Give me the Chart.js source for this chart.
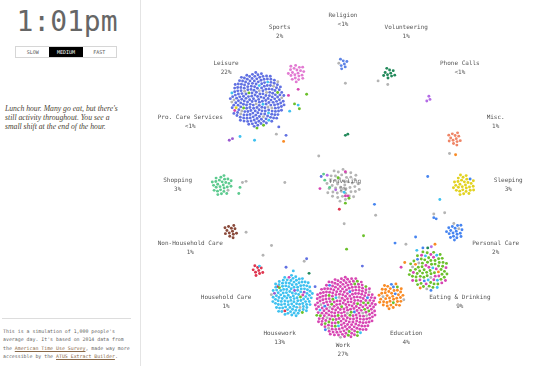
<!DOCTYPE html>
<html>
<head>
<meta charset="utf-8">
<script src="https://cdn.jsdelivr.net/npm/chart.js@4/dist/chart.umd.min.js"></script>
<style>
  body { margin: 0; width: 534px; height: 366px; overflow: hidden; background: #fff; position: relative; }
  #side { position: absolute; left: 0; top: 0; width: 140px; height: 366px; border-right: 1px solid #e4e4e4; }
  .clock { position: absolute; left: 0; top: 5px; width: 134px; text-align: center; font: 28px/34px "DejaVu Sans Mono", monospace; color: #666; }
  .speed { position: absolute; left: 15px; top: 46px; width: 100px; height: 10px; border: 1px solid #d6d6d6; display: flex; }
  .speed span { flex: 1; text-align: center; font: 5px/10px "DejaVu Sans Mono", monospace; color: #555; }
  .speed span.on { background: #000; color: #fff; }
  .note { position: absolute; left: 5px; top: 105px; margin: 0; font: italic 7.7px/8.9px "Liberation Serif", serif; color: #4a3f33; }
  .rule { position: absolute; left: 2px; top: 318px; width: 129px; border-top: 1px solid #ddd; }
  .about { position: absolute; left: 3px; top: 327px; margin: 0; font: 4.9px/8.3px "DejaVu Sans Mono", monospace; color: #666; }
  .about a { color: #8a6a4a; text-decoration: underline; }
  #wrap { position: absolute; left: 141px; top: 0; width: 393px; height: 366px; }
</style>
</head>
<body>
<div id="side">
  <div class="clock">1:01pm</div>
  <div class="speed"><span>SLOW</span><span class="on">MEDIUM</span><span>FAST</span></div>
  <p class="note">Lunch hour. Many go eat, but there's<br>still activity throughout. You see a<br>small shift at the end of the hour.</p>
  <div class="rule"></div>
  <p class="about">This is a simulation of 1,000 people's<br>average day. It's based on 2014 data from<br>the <a>American Time Use Survey</a>, made way more<br>accessible by the <a>ATUS Extract Builder</a>.</p>
</div>
<div id="wrap"><canvas id="dayChart" width="393" height="366"></canvas></div>

<script>
// activities around the ring, clockwise from the top
const activities = ['Religion', 'Volunteering', 'Phone Calls', 'Misc.', 'Sleeping', 'Personal Care',
  'Eating & Drinking', 'Education', 'Work', 'Housework', 'Household Care', 'Non-Household Care',
  'Shopping', 'Pro. Care Services', 'Leisure', 'Sports'];
const shares = ['<1%', '1%', '<1%', '1%', '3%', '2%', '9%', '4%', '27%', '13%', '1%', '1%', '3%', '<1%', '22%', '2%'];
const centerActivity = 'Traveling';
const centerShare = '9%';

// people sitting at each node (own colour), same order as activities
const nodeDots = [7, 10, 3, 13, 30, 18, 56, 38, 236, 118, 9, 13, 27, 2, 196, 21];
const centerDots = 44;

// people at a node still coloured by another activity: [node, colour of, count]
const mixedDots = [
  ['Religion', 'Traveling', 1],
  ['Sleeping', 'Personal Care', 1],
  ['Personal Care', 'Traveling', 2],
  ['Eating & Drinking', 'Work', 16], ['Eating & Drinking', 'Housework', 6], ['Eating & Drinking', 'Traveling', 4],
  ['Eating & Drinking', 'Education', 3], ['Eating & Drinking', 'Personal Care', 3],
  ['Education', 'Personal Care', 3], ['Education', 'Eating & Drinking', 2], ['Education', 'Traveling', 2],
  ['Work', 'Eating & Drinking', 26], ['Work', 'Traveling', 10], ['Work', 'Personal Care', 6], ['Work', 'Housework', 4],
  ['Housework', 'Pro. Care Services', 3], ['Housework', 'Eating & Drinking', 3], ['Housework', 'Work', 2],
  ['Housework', 'Household Care', 1], ['Housework', 'Traveling', 2],
  ['Shopping', 'Traveling', 1],
  ['Leisure', 'Traveling', 14], ['Leisure', 'Housework', 6], ['Leisure', 'Eating & Drinking', 4],
  ['Leisure', 'Sleeping', 1], ['Leisure', 'Work', 1]
];

// people on the move between nodes: [colour of, x, y] (ring radius = 100)
const movers = [
  ['Work', -37, -79], ['Work', -45, -74], ['Eating & Drinking', -30, -75], ['Eating & Drinking', -40, -67],
  ['Housework', -37, -66], ['Eating & Drinking', -36, -63], ['Housework', -44, -61],
  ['Traveling', -55, -42], ['Leisure', -47, -41], ['Leisure', -53, -48], ['Eating & Drinking', -71, -47],
  ['Education', -49, -36], ['Housework', -73, -37], ['Housework', -85, -40],
  ['Traveling', -20, -24], ['Traveling', -48, -2], ['Traveling', -83, -2], ['Traveling', -80, -3],
  ['Shopping', -85, 2], ['Shopping', -86, 7],
  ['Traveling', -80, 39], ['Traveling', -59, 50], ['Traveling', -66, 58], ['Housework', -69, 67],
  ['Leisure', -47, 68], ['Traveling', -32, 63], ['Leisure', -30, 61], ['Volunteering', -28, 73],
  ['Housework', -41, 71], ['Household Care', -54, 84], ['Leisure', -23, 84],
  ['Leisure', -18, -7], ['Shopping', -16, -9], ['Phone Calls', -13, -8], ['Shopping', -15, -4],
  ['Work', -19, 3], ['Shopping', -11, 2], ['Eating & Drinking', -4, -6], ['Work', 2, -11],
  ['Work', 2, 9], ['Work', 4, 9], ['Eating & Drinking', 5, 11], ['Eating & Drinking', 2, 15],
  ['Household Care', -3, 20], ['Personal Care', 26, 16], ['Traveling', 27, 25], ['Traveling', 1, 32],
  ['Phone Calls', -6, 4], ['Housework', 1, 6],
  ['Volunteering', 2, -41], ['Volunteering', 4, -42], ['Traveling', 88, -26], ['Education', 93, -25],
  ['Personal Care', 70, -7], ['Housework', 80, 12], ['Eating & Drinking', 17, 42], ['Eating & Drinking', 3, 53],
  ['Personal Care', 43, 48], ['Traveling', 52, 49], ['Personal Care', 60, 43],
  ['Traveling', 2, -84], ['Traveling', 29, -86], ['Traveling', 37, -83], ['Leisure', 16, 67],
  ['Work', 48, 68], ['Education', 51, 64], ['Personal Care', 66, 52], ['Phone Calls', 73, 51],
  ['Education', 76, 49], ['Volunteering', 70, 52], ['Housework', 61, 54],
  ['Traveling', 75, 24], ['Traveling', 84, 23], ['Personal Care', 75, 27], ['Personal Care', 77, 28]
];

const palette = {
  'Religion': '#5d84e6', 'Volunteering': '#22895a', 'Phone Calls': '#b46ce6', 'Misc.': '#ef8566',
  'Sleeping': '#e2d21f', 'Personal Care': '#4785f0', 'Eating & Drinking': '#6bc02b', 'Education': '#f98b25',
  'Work': '#d746b3', 'Housework': '#3fc1f0', 'Household Care': '#df3650', 'Non-Household Care': '#8a4a3b',
  'Shopping': '#5dca8f', 'Pro. Care Services': '#9a5ad0', 'Leisure': '#6171e2', 'Sports': '#e27ad2',
  'Traveling': '#b4b4b4'
};

// ---- layout (px per unit is 1.22, ring radius 100 units) ----
const PX = 1.22;
const ringR = 100;
const labelR = 136.5;

function ringPoint(i, r) {
  const a = (-90 + i * 22.5) * Math.PI / 180;
  return { x: r * Math.cos(a), y: r * Math.sin(a) };
}

// spread colours evenly along a sunflower packing
function packNode(cx, cy, groups, gap) {
  const total = groups.reduce((s, g) => s + g[1], 0);
  const acc = groups.map((g, gi) => -gi * 0.17);
  const left = groups.map(g => g[1]);
  const pts = [];
  for (let k = 0; k < total; k++) {
    let best = -1;
    for (let g = 0; g < groups.length; g++) {
      if (left[g] <= 0) continue;
      acc[g] += groups[g][1] / total;
      if (best < 0 || acc[g] > acc[best]) best = g;
    }
    acc[best] -= 1;
    left[best]--;
    const r = gap * Math.sqrt(k + 0.5) / PX;
    const t = k * 2.39996;
    pts.push({ x: cx + r * Math.cos(t), y: cy + r * Math.sin(t), c: groups[best][0] });
  }
  return pts;
}

const gapFor = { 'Eating & Drinking': 2.15, 'Traveling': 2.6 };
const nodes = activities.map((name, i) => {
  const groups = [[name, nodeDots[i]]].concat(mixedDots.filter(m => m[0] === name).map(m => [m[1], m[2]]));
  const n = groups.reduce((s, g) => s + g[1], 0);
  const gap = gapFor[name] || (nodeDots[i] > 90 ? 1.85 : 2.0);
  const c = ringPoint(i, ringR);
  return { x: c.x, y: c.y, groups, gap, r: gap * Math.sqrt(n) / PX };
});

// nudge neighbouring big nodes apart so they don't overlap
for (let it = 0; it < 20; it++) {
  for (let a = 0; a < nodes.length; a++) {
    for (let b = a + 1; b < nodes.length; b++) {
      const A = nodes[a], B = nodes[b];
      const dx = B.x - A.x, dy = B.y - A.y;
      const d = Math.hypot(dx, dy);
      const need = A.r + B.r + 3 / PX;
      if (d < need) {
        const push = (need - d) / 2;
        A.x -= dx / d * push; A.y -= dy / d * push;
        B.x += dx / d * push; B.y += dy / d * push;
      }
    }
  }
}

let people = [];
nodes.forEach(nd => { people = people.concat(packNode(nd.x, nd.y, nd.groups, nd.gap)); });
people = people.concat(packNode(0, 0, [[centerActivity, centerDots]], gapFor[centerActivity]));
movers.forEach(m => people.push({ x: m[1], y: m[2], c: m[0] }));

const datasets = Object.keys(palette).map(name => ({
  label: name,
  data: people.filter(p => p.c === name).map(p => ({ x: p.x, y: p.y })),
  pointRadius: 1.45,
  pointBackgroundColor: palette[name],
  pointBorderWidth: 0,
  pointHoverRadius: 1.45
}));

const ringLabels = {
  id: 'ringLabels',
  afterDatasetsDraw(chart) {
    const { ctx, scales: { x, y } } = chart;
    ctx.save();
    ctx.font = '6px "DejaVu Sans Mono", monospace';
    ctx.fillStyle = '#555';
    ctx.textAlign = 'center';
    ctx.textBaseline = 'middle';
    activities.forEach((name, i) => {
      const p = ringPoint(i, labelR);
      const px = x.getPixelForValue(p.x);
      const py = y.getPixelForValue(p.y);
      ctx.fillText(name, px, py - 4.5);
      ctx.fillText(shares[i], px, py + 4.5);
    });
    const cx = x.getPixelForValue(0), cy = y.getPixelForValue(0);
    ctx.fillStyle = '#666';
    ctx.fillText(centerActivity, cx + 2, cy - 3.5);
    ctx.fillText(centerShare, cx, cy + 4.5);
    ctx.restore();
  }
};

new Chart(document.getElementById('dayChart'), {
  type: 'scatter',
  data: { datasets },
  options: {
    responsive: false,
    animation: false,
    devicePixelRatio: 1,
    layout: { padding: 0 },
    scales: {
      x: { display: false, min: -202 / PX, max: 191 / PX },
      y: { display: false, reverse: true, min: -185 / PX, max: 181 / PX }
    },
    plugins: { legend: { display: false }, tooltip: { enabled: false } }
  },
  plugins: [ringLabels]
});
</script>
</body>
</html>
